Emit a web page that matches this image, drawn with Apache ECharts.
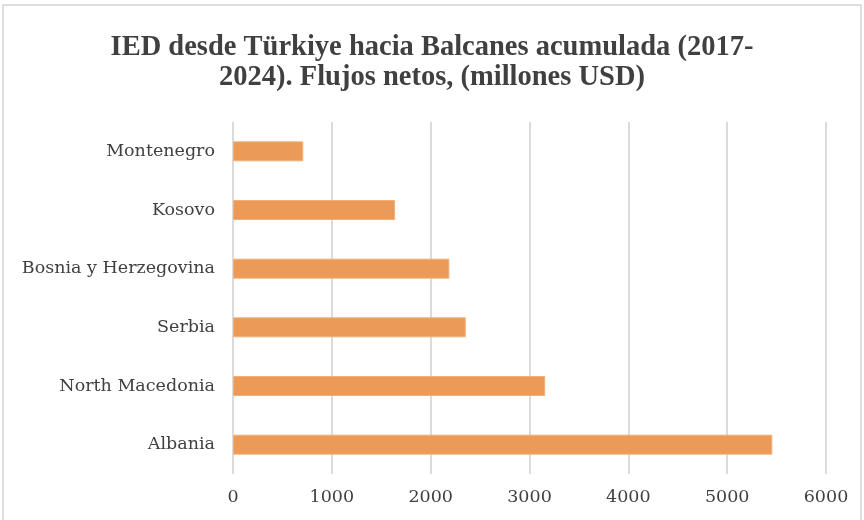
<!DOCTYPE html>
<html><head><meta charset="utf-8">
<script src="https://cdn.jsdelivr.net/npm/echarts@6/dist/echarts.min.js"></script>
<style>html,body{margin:0;padding:0;background:#fff}#c{width:864px;height:520px}</style>
</head><body><div id="c"></div>
<script>
const categories = ["Albania", "North Macedonia", "Serbia", "Bosnia y Herzegovina", "Kosovo", "Montenegro"];
const values = [5457, 3159, 2355, 2189, 1640, 711];
const titleText = "IED desde Türkiye hacia Balcanes acumulada (2017-\n2024). Flujos netos, (millones USD)";

const chart = echarts.init(document.getElementById('c'), null, {renderer: 'canvas'});
chart.setOption({
  backgroundColor: '#fff',
  animation: false,
  title: {
    text: titleText,
    left: 'center',
    top: 28,
    textStyle: {fontFamily: 'Liberation Serif', fontWeight: 'bold', fontSize: 28.5, color: '#404040', lineHeight: 30}
  },
  graphic: [{type: 'rect', shape: {x: 3, y: 5, width: 858, height: 530}, style: {fill: 'none', stroke: '#d4d4d4', lineWidth: 1.5}}],
  grid: {left: 233, right: 38, top: 122, bottom: 46},
  xAxis: {
    type: 'value', min: 0, max: 6000, interval: 1000,
    axisLine: {show: false}, axisTick: {show: false},
    splitLine: {lineStyle: {color: '#cfcfcf', width: 1.5}},
    axisLabel: {fontFamily: 'DejaVu Serif', fontSize: 17.5, color: '#404040', margin: 14, formatter: v => String(v)}
  },
  yAxis: {
    type: 'category', data: categories,
    axisLine: {show: false}, axisTick: {show: false},
    axisLabel: {fontFamily: 'DejaVu Serif', fontSize: 17.5, color: '#404040', margin: 18}
  },
  series: [{
    type: 'bar', data: values, barWidth: 20,
    itemStyle: {color: '#EB9A58', borderColor: '#F1B07A', borderWidth: 1}
  }]
});
</script></body></html>
